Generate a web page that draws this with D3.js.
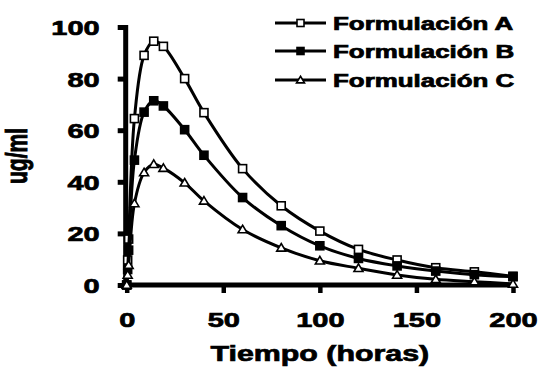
<!DOCTYPE html>
<html>
<head>
<meta charset="utf-8">
<script src="https://cdn.jsdelivr.net/npm/d3@7"></script>
<style>
  html, body { margin: 0; padding: 0; background: #fff; }
  svg { display: block; }
  text { font-family: "Liberation Sans", Arial, sans-serif; font-weight: bold; fill: #000; stroke: #000; stroke-width: 0.7px; }
</style>
</head>
<body>
<script>
// ---- data ----
const times = [0, 0.5, 1, 4, 9, 14, 19, 30, 40, 60, 80, 100, 120, 140, 160, 180, 200];
const seriesNames = ["Formulación A", "Formulación B", "Formulación C"];
const valuesA = [0, 9.7, 17.8, 64.5, 89, 94.5, 92.5, 80, 66.8, 45.1, 30.7, 20.9, 13.8, 9.7, 6.7, 5.1, 3.4];
const valuesB = [0, 6, 13.5, 48.4, 67, 71.4, 69.4, 60.2, 50.3, 33.9, 23, 15.2, 10.3, 7.4, 5.4, 4.0, 3.2];
const valuesC = [0, 3.9, 7.7, 31.6, 43.6, 46.8, 45.3, 39.6, 32.6, 21.5, 14.4, 9.4, 6.5, 3.9, 2.2, 1.3, 0.4];
const xTicks = [0, 50, 100, 150, 200];
const yTicks = [0, 20, 40, 60, 80, 100];
const xTitle = "Tiempo (horas)";
const yTitle = "ug/ml";

const W = 542, H = 367;
const SX = 1.38; // horizontal stretch of the lettering

const svg = d3.select("body").append("svg").attr("width", W).attr("height", H);

const x = d3.scaleLinear().domain([0, 200]).range([126.7, 513]);
const y = d3.scaleLinear().domain([0, 100]).range([285, 27]);

// axes
const xAxis = svg.append("g").attr("transform", `translate(0,${y(0)})`)
  .call(d3.axisBottom(x).tickValues(xTicks).tickSize(8).tickSizeOuter(0));
xAxis.select(".domain").attr("stroke", "#000").attr("stroke-width", 5)
  .attr("d", `M${x(0) - 3},0H${x(200) + 2}`);
xAxis.selectAll(".tick line").attr("stroke", "#000").attr("stroke-width", 4.5);
xAxis.selectAll(".tick text")
  .attr("x", null).attr("y", null).attr("dy", null)
  .attr("transform", "translate(0,42) scale(" + SX + ",1)")
  .style("font-size", "21px").attr("text-anchor", "middle");

const yAxis = svg.append("g").attr("transform", `translate(${x(0) - 1},0)`)
  .call(d3.axisLeft(y).tickValues(yTicks).tickSize(8).tickSizeOuter(0));
yAxis.select(".domain").attr("stroke", "#000").attr("stroke-width", 5)
  .attr("d", `M0,${y(100) - 2}V${y(0) + 2}`);
yAxis.selectAll(".tick line").attr("stroke", "#000").attr("stroke-width", 5);
yAxis.selectAll(".tick text")
  .attr("x", null).attr("dy", "0.36em")
  .attr("transform", "translate(-26,0) scale(" + SX + ",1)")
  .style("font-size", "21px").attr("text-anchor", "end");

// titles
svg.append("text")
  .attr("transform", `translate(${(x(0) + x(200)) / 2},${361}) scale(${SX},1)`)
  .attr("text-anchor", "middle").style("font-size", "22px").text(xTitle);
svg.append("text")
  .attr("transform", `translate(27,156) rotate(-90) scale(1,${SX})`)
  .attr("text-anchor", "middle").style("font-size", "21px").text(yTitle);

// series
const data = [valuesA, valuesB, valuesC];
const markerType = ["squareOpen", "squareFilled", "triangleOpen"];
const line = d3.line().x((d, i) => x(times[i])).y(d => y(d)).curve(d3.curveCatmullRom.alpha(0.5));

function drawMarker(g, type, cx, cy, s) {
  if (type === "triangleOpen") {
    const h = s * 0.9;
    g.append("path")
      .attr("d", `M${cx},${cy - h * 0.6}L${cx + s / 2 + 0.5},${cy + h * 0.45}L${cx - s / 2 - 0.5},${cy + h * 0.45}Z`)
      .attr("fill", "#fff").attr("stroke", "#000").attr("stroke-width", 1.6);
  } else {
    g.append("rect")
      .attr("x", cx - s / 2).attr("y", cy - s / 2).attr("width", s).attr("height", s)
      .attr("fill", type === "squareFilled" ? "#000" : "#fff")
      .attr("stroke", "#000").attr("stroke-width", 1.6);
  }
}

data.forEach((vals, k) => {
  const g = svg.append("g");
  g.append("path").datum(vals).attr("d", line)
    .attr("fill", "none").attr("stroke", "#000").attr("stroke-width", 3);
  vals.forEach((v, i) => drawMarker(g, markerType[k], x(times[i]), y(v), 8));
});

// legend
const legendY = [23, 51, 80];
seriesNames.forEach((name, k) => {
  const g = svg.append("g");
  g.append("line").attr("x1", 275).attr("x2", 326).attr("y1", legendY[k]).attr("y2", legendY[k])
    .attr("stroke", "#000").attr("stroke-width", 3);
  drawMarker(g, markerType[k], 300.5, legendY[k], 7);
  svg.append("text")
    .attr("transform", `translate(333,${legendY[k] + 6.5}) scale(1.48,1)`)
    .style("font-size", "17.5px").text(name);
});
</script>
</body>
</html>
